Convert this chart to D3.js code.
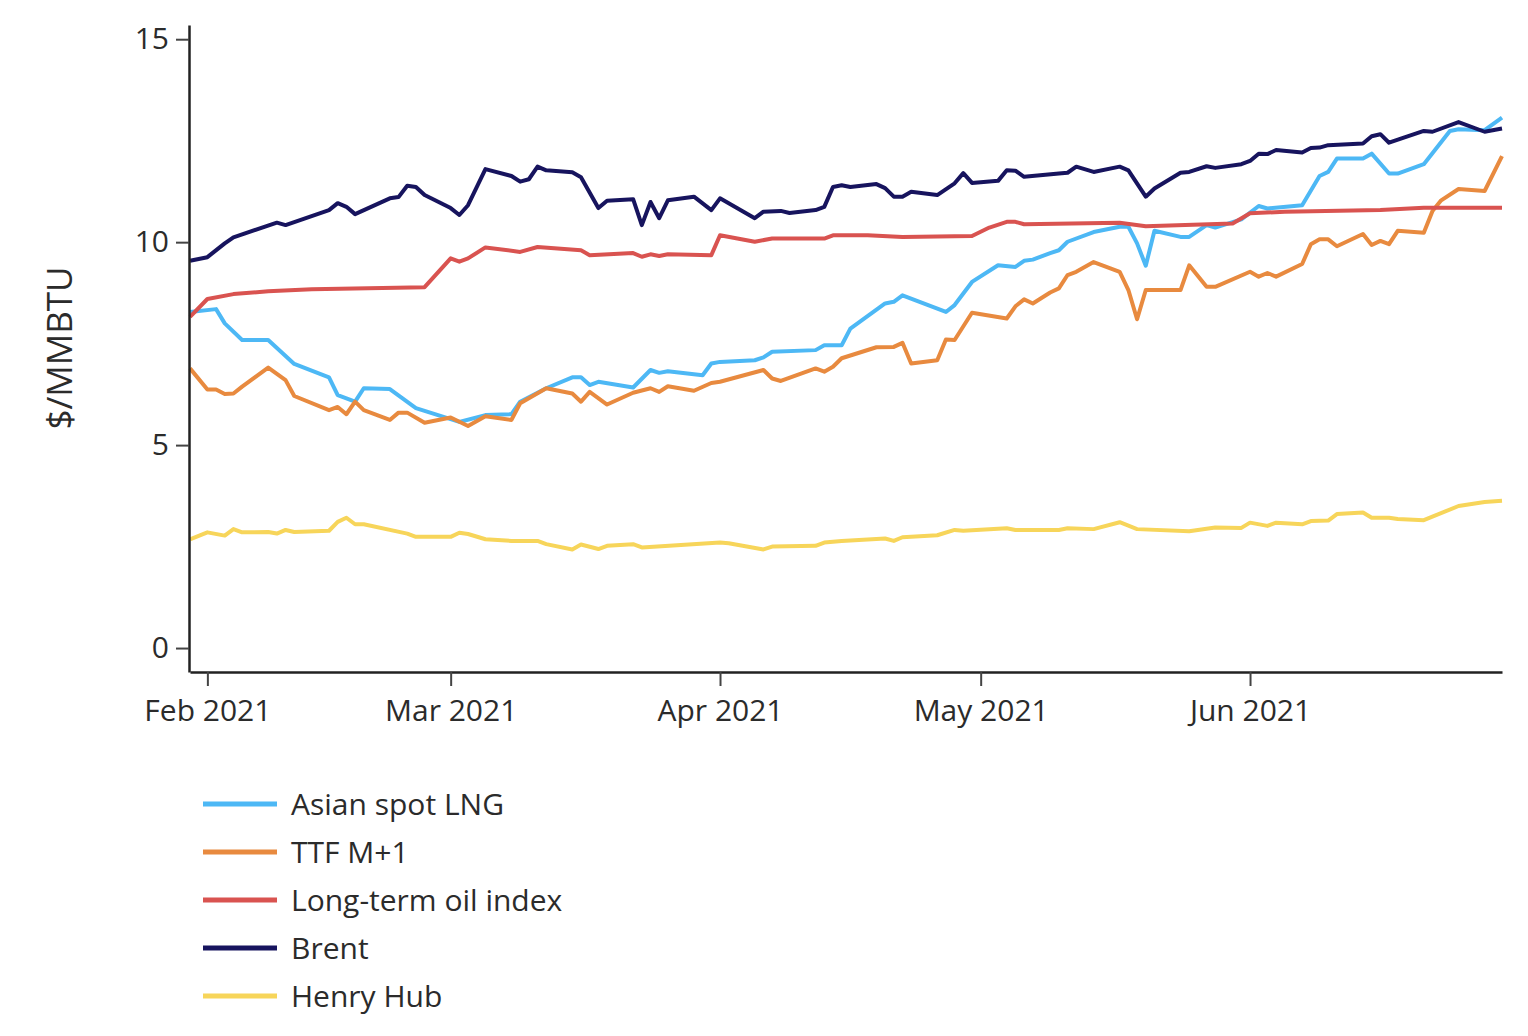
<!DOCTYPE html>
<html>
<head>
<meta charset="utf-8">
<script src="https://cdn.jsdelivr.net/npm/d3@7"></script>
<style>
  body { margin: 0; background: #fff; }
  text { font-family: "Open Sans", sans-serif; fill: #2b2b2b; }
</style>
</head>
<body>
<script>
// series values ($/MMBTU)
var lngData = [
  ["2021-01-30", 8.28], ["2021-02-02", 8.35], ["2021-02-03", 8.0], ["2021-02-05", 7.59], ["2021-02-08", 7.59],
  ["2021-02-11", 7.0], ["2021-02-15", 6.67], ["2021-02-16", 6.23], ["2021-02-18", 6.07], ["2021-02-19", 6.4],
  ["2021-02-22", 6.38], ["2021-02-25", 5.91], ["2021-03-02", 5.57], ["2021-03-05", 5.74], ["2021-03-08", 5.76],
  ["2021-03-09", 6.07], ["2021-03-12", 6.4], ["2021-03-15", 6.67], ["2021-03-16", 6.67], ["2021-03-17", 6.48],
  ["2021-03-18", 6.56], ["2021-03-22", 6.42], ["2021-03-24", 6.85], ["2021-03-25", 6.78], ["2021-03-26", 6.82],
  ["2021-03-30", 6.72], ["2021-03-31", 7.01], ["2021-04-01", 7.05], ["2021-04-05", 7.09], ["2021-04-06", 7.16],
  ["2021-04-07", 7.3], ["2021-04-12", 7.34], ["2021-04-13", 7.46], ["2021-04-15", 7.46], ["2021-04-16", 7.87],
  ["2021-04-20", 8.49], ["2021-04-21", 8.53], ["2021-04-22", 8.69], ["2021-04-27", 8.28], ["2021-04-28", 8.45],
  ["2021-04-30", 9.02], ["2021-05-03", 9.43], ["2021-05-05", 9.39], ["2021-05-06", 9.54], ["2021-05-07", 9.57],
  ["2021-05-09", 9.73], ["2021-05-10", 9.8], ["2021-05-11", 10.01], ["2021-05-14", 10.25], ["2021-05-17", 10.38],
  ["2021-05-18", 10.38], ["2021-05-19", 9.97], ["2021-05-20", 9.42], ["2021-05-21", 10.28], ["2021-05-24", 10.13],
  ["2021-05-25", 10.13], ["2021-05-27", 10.42], ["2021-05-28", 10.36], ["2021-05-31", 10.56], ["2021-06-02", 10.89],
  ["2021-06-03", 10.83], ["2021-06-07", 10.91], ["2021-06-09", 11.63], ["2021-06-10", 11.73], ["2021-06-11", 12.06],
  ["2021-06-14", 12.06], ["2021-06-15", 12.18], ["2021-06-17", 11.69], ["2021-06-18", 11.69], ["2021-06-21", 11.92],
  ["2021-06-24", 12.74], ["2021-06-25", 12.78], ["2021-06-28", 12.76], ["2021-06-30", 13.07]
];
var ttfData = [
  ["2021-01-30", 6.89], ["2021-02-01", 6.37], ["2021-02-02", 6.37], ["2021-02-03", 6.26], ["2021-02-04", 6.27],
  ["2021-02-05", 6.44], ["2021-02-08", 6.91], ["2021-02-10", 6.6], ["2021-02-11", 6.21], ["2021-02-15", 5.86],
  ["2021-02-16", 5.94], ["2021-02-17", 5.76], ["2021-02-18", 6.07], ["2021-02-19", 5.86], ["2021-02-22", 5.62],
  ["2021-02-23", 5.8], ["2021-02-24", 5.8], ["2021-02-26", 5.55], ["2021-03-01", 5.68], ["2021-03-03", 5.47],
  ["2021-03-05", 5.71], ["2021-03-08", 5.62], ["2021-03-09", 6.03], ["2021-03-12", 6.4], ["2021-03-15", 6.27],
  ["2021-03-16", 6.07], ["2021-03-17", 6.31], ["2021-03-19", 6.0], ["2021-03-22", 6.29], ["2021-03-24", 6.4],
  ["2021-03-25", 6.31], ["2021-03-26", 6.45], ["2021-03-29", 6.34], ["2021-03-31", 6.53], ["2021-04-01", 6.56],
  ["2021-04-06", 6.85], ["2021-04-07", 6.64], ["2021-04-08", 6.58], ["2021-04-12", 6.89], ["2021-04-13", 6.81],
  ["2021-04-14", 6.93], ["2021-04-15", 7.14], ["2021-04-19", 7.41], ["2021-04-21", 7.42], ["2021-04-22", 7.52],
  ["2021-04-23", 7.01], ["2021-04-26", 7.09], ["2021-04-27", 7.6], ["2021-04-28", 7.59], ["2021-04-30", 8.26],
  ["2021-05-04", 8.12], ["2021-05-05", 8.42], ["2021-05-06", 8.59], ["2021-05-07", 8.49], ["2021-05-09", 8.76],
  ["2021-05-10", 8.86], ["2021-05-11", 9.19], ["2021-05-12", 9.27], ["2021-05-14", 9.51], ["2021-05-17", 9.27],
  ["2021-05-18", 8.82], ["2021-05-19", 8.1], ["2021-05-20", 8.82], ["2021-05-24", 8.82], ["2021-05-25", 9.43],
  ["2021-05-27", 8.9], ["2021-05-28", 8.9], ["2021-06-01", 9.27], ["2021-06-02", 9.15], ["2021-06-03", 9.24],
  ["2021-06-04", 9.15], ["2021-06-07", 9.46], ["2021-06-08", 9.95], ["2021-06-09", 10.07], ["2021-06-10", 10.07],
  ["2021-06-11", 9.9], ["2021-06-14", 10.2], ["2021-06-15", 9.93], ["2021-06-16", 10.03], ["2021-06-17", 9.95],
  ["2021-06-18", 10.28], ["2021-06-21", 10.23], ["2021-06-22", 10.77], ["2021-06-23", 11.03], ["2021-06-25", 11.31],
  ["2021-06-28", 11.26], ["2021-06-30", 12.12]
];
var oilData = [
  ["2021-01-30", 8.16], ["2021-02-01", 8.6], ["2021-02-04", 8.72], ["2021-02-08", 8.79], ["2021-02-13", 8.84],
  ["2021-02-26", 8.89], ["2021-03-01", 9.6], ["2021-03-02", 9.52], ["2021-03-03", 9.6], ["2021-03-05", 9.87],
  ["2021-03-09", 9.76], ["2021-03-11", 9.88], ["2021-03-16", 9.8], ["2021-03-17", 9.68], ["2021-03-22", 9.73],
  ["2021-03-23", 9.64], ["2021-03-24", 9.7], ["2021-03-25", 9.66], ["2021-03-26", 9.7], ["2021-03-31", 9.68],
  ["2021-04-01", 10.17], ["2021-04-05", 10.01], ["2021-04-07", 10.09], ["2021-04-13", 10.09], ["2021-04-14", 10.17],
  ["2021-04-18", 10.17], ["2021-04-22", 10.13], ["2021-04-30", 10.15], ["2021-05-02", 10.36], ["2021-05-04", 10.5],
  ["2021-05-05", 10.5], ["2021-05-06", 10.44], ["2021-05-17", 10.48], ["2021-05-20", 10.39], ["2021-05-30", 10.46],
  ["2021-06-01", 10.71], ["2021-06-05", 10.75], ["2021-06-16", 10.79], ["2021-06-21", 10.85], ["2021-06-30", 10.85]
];
var brentData = [
  ["2021-01-30", 9.54], ["2021-02-01", 9.63], ["2021-02-03", 9.97], ["2021-02-04", 10.12], ["2021-02-09", 10.48],
  ["2021-02-10", 10.42], ["2021-02-15", 10.79], ["2021-02-16", 10.96], ["2021-02-17", 10.87], ["2021-02-18", 10.69],
  ["2021-02-22", 11.08], ["2021-02-23", 11.11], ["2021-02-24", 11.39], ["2021-02-25", 11.36], ["2021-02-26", 11.16],
  ["2021-03-01", 10.84], ["2021-03-02", 10.67], ["2021-03-03", 10.91], ["2021-03-05", 11.8], ["2021-03-08", 11.63],
  ["2021-03-09", 11.49], ["2021-03-10", 11.55], ["2021-03-11", 11.86], ["2021-03-12", 11.77], ["2021-03-15", 11.72],
  ["2021-03-16", 11.6], ["2021-03-18", 10.84], ["2021-03-19", 11.02], ["2021-03-22", 11.06], ["2021-03-23", 10.42],
  ["2021-03-24", 10.99], ["2021-03-25", 10.59], ["2021-03-26", 11.03], ["2021-03-29", 11.12], ["2021-03-31", 10.79],
  ["2021-04-01", 11.08], ["2021-04-05", 10.59], ["2021-04-06", 10.75], ["2021-04-08", 10.77], ["2021-04-09", 10.72],
  ["2021-04-12", 10.79], ["2021-04-13", 10.87], ["2021-04-14", 11.36], ["2021-04-15", 11.4], ["2021-04-16", 11.36],
  ["2021-04-19", 11.43], ["2021-04-20", 11.33], ["2021-04-21", 11.12], ["2021-04-22", 11.12], ["2021-04-23", 11.24],
  ["2021-04-26", 11.16], ["2021-04-28", 11.45], ["2021-04-29", 11.7], ["2021-04-30", 11.46], ["2021-05-03", 11.51],
  ["2021-05-04", 11.77], ["2021-05-05", 11.76], ["2021-05-06", 11.61], ["2021-05-10", 11.69], ["2021-05-11", 11.71],
  ["2021-05-12", 11.86], ["2021-05-14", 11.73], ["2021-05-17", 11.86], ["2021-05-18", 11.77], ["2021-05-20", 11.12],
  ["2021-05-21", 11.32], ["2021-05-24", 11.71], ["2021-05-25", 11.73], ["2021-05-27", 11.87], ["2021-05-28", 11.83],
  ["2021-05-31", 11.92], ["2021-06-01", 12.0], ["2021-06-02", 12.18], ["2021-06-03", 12.17], ["2021-06-04", 12.27],
  ["2021-06-07", 12.21], ["2021-06-08", 12.32], ["2021-06-09", 12.33], ["2021-06-10", 12.39], ["2021-06-14", 12.43],
  ["2021-06-15", 12.61], ["2021-06-16", 12.66], ["2021-06-17", 12.45], ["2021-06-21", 12.74], ["2021-06-22", 12.72],
  ["2021-06-25", 12.96], ["2021-06-28", 12.72], ["2021-06-30", 12.8]
];
var hhData = [
  ["2021-01-30", 2.68], ["2021-02-01", 2.85], ["2021-02-03", 2.77], ["2021-02-04", 2.93], ["2021-02-05", 2.85],
  ["2021-02-08", 2.86], ["2021-02-09", 2.82], ["2021-02-10", 2.91], ["2021-02-11", 2.86], ["2021-02-15", 2.89],
  ["2021-02-16", 3.11], ["2021-02-17", 3.21], ["2021-02-18", 3.05], ["2021-02-19", 3.05], ["2021-02-24", 2.82],
  ["2021-02-25", 2.74], ["2021-03-01", 2.74], ["2021-03-02", 2.84], ["2021-03-03", 2.81], ["2021-03-05", 2.68],
  ["2021-03-08", 2.64], ["2021-03-11", 2.64], ["2021-03-12", 2.56], ["2021-03-15", 2.43], ["2021-03-16", 2.55],
  ["2021-03-18", 2.44], ["2021-03-19", 2.52], ["2021-03-22", 2.56], ["2021-03-23", 2.48], ["2021-04-01", 2.6],
  ["2021-04-02", 2.58], ["2021-04-06", 2.43], ["2021-04-07", 2.5], ["2021-04-12", 2.52], ["2021-04-13", 2.6],
  ["2021-04-15", 2.64], ["2021-04-20", 2.7], ["2021-04-21", 2.64], ["2021-04-22", 2.73], ["2021-04-26", 2.78],
  ["2021-04-28", 2.91], ["2021-04-29", 2.89], ["2021-05-04", 2.95], ["2021-05-05", 2.91], ["2021-05-10", 2.91],
  ["2021-05-11", 2.95], ["2021-05-14", 2.93], ["2021-05-17", 3.1], ["2021-05-19", 2.93], ["2021-05-25", 2.88],
  ["2021-05-28", 2.97], ["2021-05-31", 2.96], ["2021-06-01", 3.09], ["2021-06-03", 3.01], ["2021-06-04", 3.09],
  ["2021-06-07", 3.05], ["2021-06-08", 3.13], ["2021-06-10", 3.14], ["2021-06-11", 3.3], ["2021-06-14", 3.34],
  ["2021-06-15", 3.21], ["2021-06-17", 3.21], ["2021-06-18", 3.18], ["2021-06-21", 3.15], ["2021-06-25", 3.5],
  ["2021-06-28", 3.6], ["2021-06-30", 3.63]
];

var seriesNames = ["Asian spot LNG", "TTF M+1", "Long-term oil index", "Brent", "Henry Hub"];
var seriesColors = ["#4db8f5", "#e88a3f", "#d95350", "#17145e", "#f7d55a"];
var seriesData = [lngData, ttfData, oilData, brentData, hhData];
var yTicks = [0, 5, 10, 15];
var yTitle = "$/MMBTU";

var parse = d3.timeParse("%Y-%m-%d");

var width = 1528, height = 1036;
var svg = d3.select("body").append("svg")
  .attr("width", width)
  .attr("height", height);

var x = d3.scaleTime()
  .domain([parse("2021-01-30"), parse("2021-06-30")])
  .range([190, 1502]);
var y = d3.scaleLinear()
  .domain([-0.59, 15.35])
  .range([672, 25]);

// lines
var line = d3.line()
  .x(function(d) { return x(parse(d[0])); })
  .y(function(d) { return y(d[1]); });

svg.append("g").selectAll("path")
  .data(seriesData)
  .enter().append("path")
    .attr("d", line)
    .attr("fill", "none")
    .attr("stroke", function(d, i) { return seriesColors[i]; })
    .attr("stroke-width", 4)
    .attr("stroke-linejoin", "round");

// y axis
var yAxis = svg.append("g")
  .attr("transform", "translate(189,0)")
  .call(d3.axisLeft(y).tickValues(yTicks).tickSize(13).tickSizeOuter(0).tickPadding(7));
yAxis.select(".domain").attr("stroke", "#222").attr("stroke-width", 2.5);
yAxis.selectAll(".tick line").attr("stroke", "#444").attr("stroke-width", 2);
yAxis.selectAll("text").style("font-size", "30px").attr("fill", "#2b2b2b");

// x axis
var xAxis = svg.append("g")
  .attr("transform", "translate(0,672)")
  .call(d3.axisBottom(x).ticks(d3.timeMonth.every(1)).tickFormat(d3.timeFormat("%b %Y"))
    .tickSize(14).tickSizeOuter(0).tickPadding(14));
xAxis.select(".domain").attr("stroke", "#222").attr("stroke-width", 2.5);
xAxis.selectAll(".tick line").attr("stroke", "#444").attr("stroke-width", 2);
xAxis.selectAll("text").style("font-size", "30px").attr("fill", "#2b2b2b");

// y title
svg.append("text")
  .attr("transform", "translate(60,348) rotate(-90)")
  .attr("text-anchor", "middle")
  .attr("dy", "0.35em")
  .style("font-size", "35px")
  .text(yTitle);

// legend
var legend = svg.append("g").selectAll("g")
  .data(seriesNames)
  .enter().append("g")
    .attr("transform", function(d, i) { return "translate(203," + (804 + i * 48) + ")"; });
legend.append("line")
  .attr("x1", 0).attr("x2", 74)
  .attr("stroke", function(d, i) { return seriesColors[i]; })
  .attr("stroke-width", 5);
legend.append("text")
  .attr("x", 88)
  .attr("dy", "0.35em")
  .style("font-size", "30px")
  .text(function(d) { return d; });
</script>
</body>
</html>
